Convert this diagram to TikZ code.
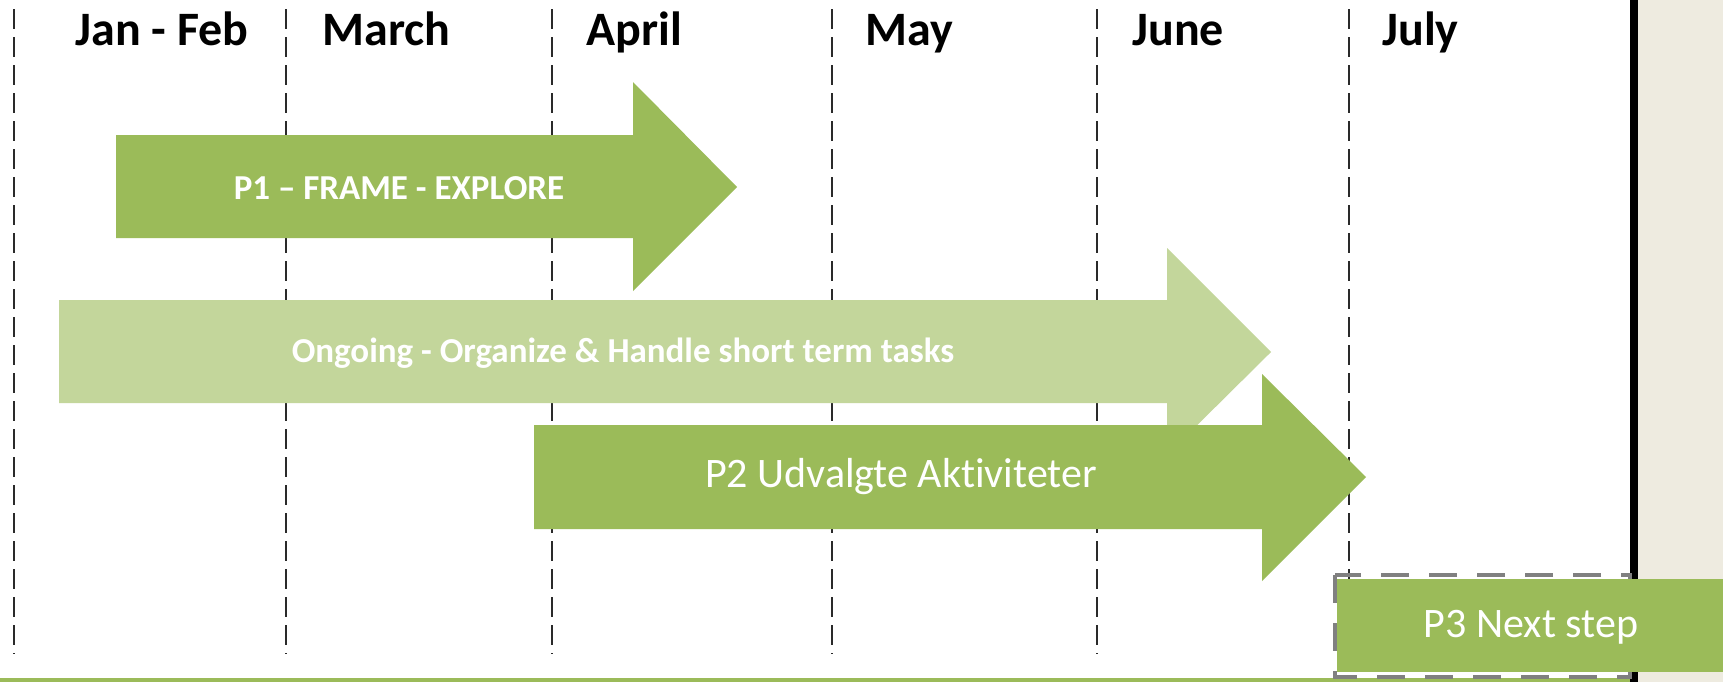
\documentclass[tikz,border=0pt]{standalone}
\usepackage{fontspec}
\setmainfont{Carlito}[Ligatures=NoCommon]
\definecolor{gdark}{HTML}{9BBB59}
\definecolor{glight}{HTML}{C3D69B}
\definecolor{beigebg}{HTML}{EEEBE0}
\definecolor{vlinecol}{HTML}{2A2A2A}
\tikzset{
  vline/.style={draw=vlinecol, line width=1.2pt, dash pattern=on 10pt off 4pt},
  month/.style={anchor=base west, inner sep=0pt, font=\fontsize{24}{28}\selectfont\bfseries},
  boldlbl/.style={text=white, inner sep=0pt, font=\fontsize{17.5}{21}\selectfont\bfseries},
  reglbl/.style={text=white, inner sep=0pt, font=\fontsize{21}{25}\selectfont},
}
\begin{document}
\begin{tikzpicture}[x=0.5pt,y=-0.5pt]
\useasboundingbox (0,0) rectangle (1723,682);
% backgrounds
\fill[white] (0,0) rectangle (1630,682);
\fill[black] (1630,0) rectangle (1638,682);
\fill[beigebg] (1638,0) rectangle (1723,682);
% month separators
\foreach \xx in {14,286,552,832,1097,1349}
  \draw[vline] (\xx,9) -- (\xx,654);
% month labels
\node[month] (jan) at (75,45) {Jan - Feb};
\node[month] (mar) at (322,45) {March};
\node[month] (apr) at (586,45) {April};
\node[month] (may) at (865,45) {May};
\node[month] (jun) at (1132,45) {June};
\node[month] (jul) at (1382,45) {July};
% P1 arrow
\fill[gdark] (116,135) -- (633,135) -- (633,82) -- (737,187) -- (633,291) -- (633,238) -- (116,238) -- cycle;
\node[boldlbl] (p1) at (399,188) {P1 – FRAME - EXPLORE};
% Ongoing arrow
\fill[glight] (59,300) -- (1167,300) -- (1167,248) -- (1271,352) -- (1167,455) -- (1167,403) -- (59,403) -- cycle;
\node[boldlbl] (ongoing) at (623,353) {Ongoing - Organize \& Handle short term tasks};
% P2 arrow
\fill[gdark] (534,425) -- (1262,425) -- (1262,374) -- (1366,477) -- (1262,581) -- (1262,529) -- (534,529) -- cycle;
\node[reglbl] (p2) at (901,477) {P2 Udvalgte Aktiviteter};
% bottom line
\draw[gdark, line width=2pt] (0,680) -- (1630,680);
% P3 box
\draw[gray, line width=2pt, dash pattern=on 14pt off 10pt] (1335,575) rectangle (1630,677);
\fill[gdark] (1337,579) rectangle (1723,672);
\node[reglbl] (p3) at (1531,627) {P3 Next step};
\end{tikzpicture}
\end{document}
